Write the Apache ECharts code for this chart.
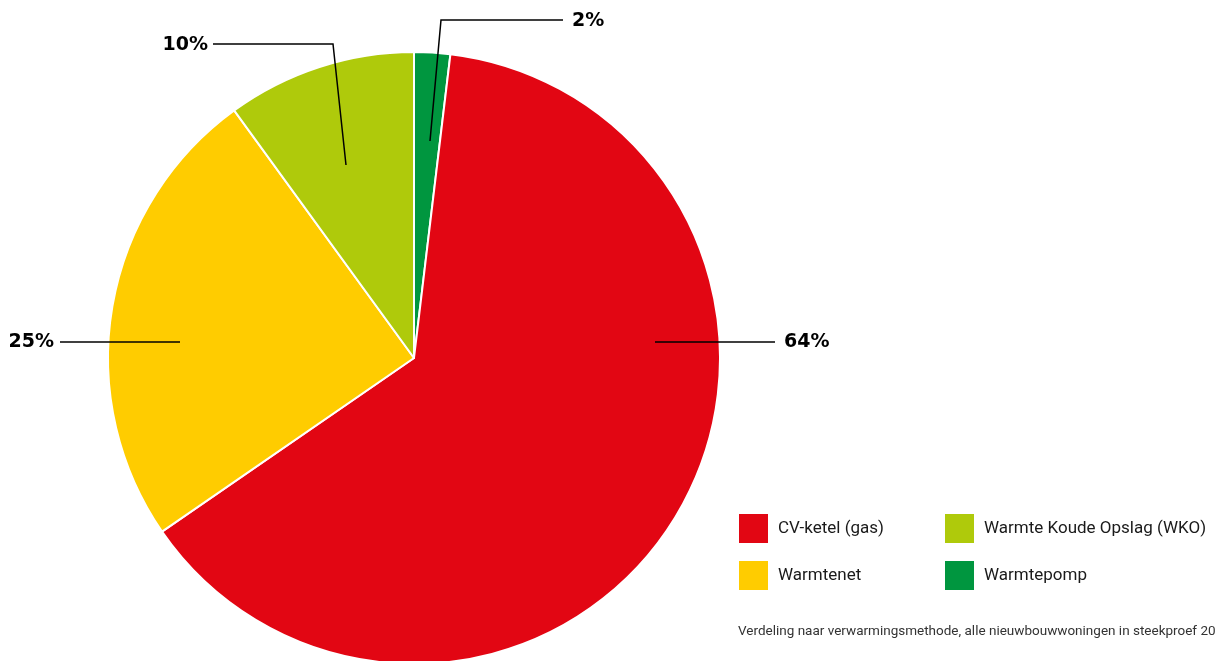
<!DOCTYPE html>
<html>
<head>
<meta charset="utf-8">
<script src="https://cdn.jsdelivr.net/npm/echarts@6/dist/echarts.min.js"></script>
<style>
html,body{margin:0;padding:0;background:#fff;}
#chart{width:1216px;height:661px;}
</style>
</head>
<body>
<div id="chart"></div>
<script>
// Data (clockwise from 12 o'clock)
const categories = ['Warmtepomp', 'CV-ketel (gas)', 'Warmtenet', 'Warmte Koude Opslag (WKO)'];
const values = [1.9, 63.5, 24.6, 10.0];
const colors = ['#00963f', '#e20613', '#ffcc00', '#afca0b'];
const legendCol1 = ['CV-ketel (gas)', 'Warmtenet'];
const legendCol2 = ['Warmte Koude Opslag (WKO)', 'Warmtepomp'];
const footnote = 'Verdeling naar verwarmingsmethode, alle nieuwbouwwoningen in steekproef 2019';

// Label placement (layout only): label anchor, alignment and leader line points
const labelPlacement = [
  { x: 572, y: 21, align: 'left',  pts: [[430, 141], [441, 20], [563, 20]] },
  { x: 784, y: 342, align: 'left', pts: [[655, 342], [715, 342], [775, 342]] },
  { x: 54,  y: 342, align: 'right', pts: [[180, 342], [120, 342], [60, 342]] },
  { x: 208, y: 45, align: 'right', pts: [[346, 165], [333, 44], [213, 44]] }
];

const chart = echarts.init(document.getElementById('chart'), null, { renderer: 'canvas' });

const legendText = { fontFamily: 'Roboto', fontSize: 17, color: '#1a1a1a', padding: [0, 0, 0, 4] };
const pieData = categories.map((c, i) => ({ name: c, value: values[i], itemStyle: { color: colors[i] } }));

chart.setOption({
  animation: false,
  graphic: [{
    type: 'text',
    left: 738,
    top: 625,
    silent: true,
    style: { text: footnote, fontFamily: 'Roboto', fontSize: 13.5, fill: '#333' }
  }],
  legend: [
    {
      data: legendCol1, orient: 'vertical', left: 737, top: 512, padding: 0,
      itemWidth: 31, itemHeight: 31, itemGap: 14, icon: 'rect',
      textStyle: legendText, selectedMode: false
    },
    {
      data: legendCol2, orient: 'vertical', left: 943, top: 512, padding: 0,
      itemWidth: 31, itemHeight: 31, itemGap: 14, icon: 'rect',
      textStyle: legendText, selectedMode: false
    }
  ],
  series: [{
    type: 'pie',
    center: [414, 358],
    radius: 306,
    startAngle: 90,
    clockwise: true,
    z: 2,
    itemStyle: { borderColor: '#fff', borderWidth: 2 },
    emphasis: { disabled: true },
    label: { show: false },
    labelLine: { show: false },
    data: pieData
  }, {
    // overlay: same slices, transparent, carrying labels and leader lines above the sectors
    type: 'pie',
    center: [414, 358],
    radius: 306,
    startAngle: 90,
    clockwise: true,
    z: 5,
    silent: true,
    legendHoverLink: false,
    avoidLabelOverlap: false,
    itemStyle: { color: 'rgba(0,0,0,0)', borderWidth: 0 },
    emphasis: { disabled: true },
    label: {
      show: true,
      formatter: p => Math.round(p.value) + '%',
      fontFamily: 'DejaVu Sans',
      fontWeight: 'bold',
      fontSize: 19,
      color: '#000'
    },
    labelLine: { show: true, lineStyle: { color: '#000', width: 1.5 } },
    labelLayout: function (params) {
      const pl = labelPlacement[params.dataIndex];
      return {
        x: pl.x, y: pl.y, align: pl.align, verticalAlign: 'middle',
        labelLinePoints: pl.pts
      };
    },
    data: categories.map((c, i) => ({ name: c, value: values[i], itemStyle: { color: 'rgba(0,0,0,0)' } }))
  }]
});
</script>
</body>
</html>
